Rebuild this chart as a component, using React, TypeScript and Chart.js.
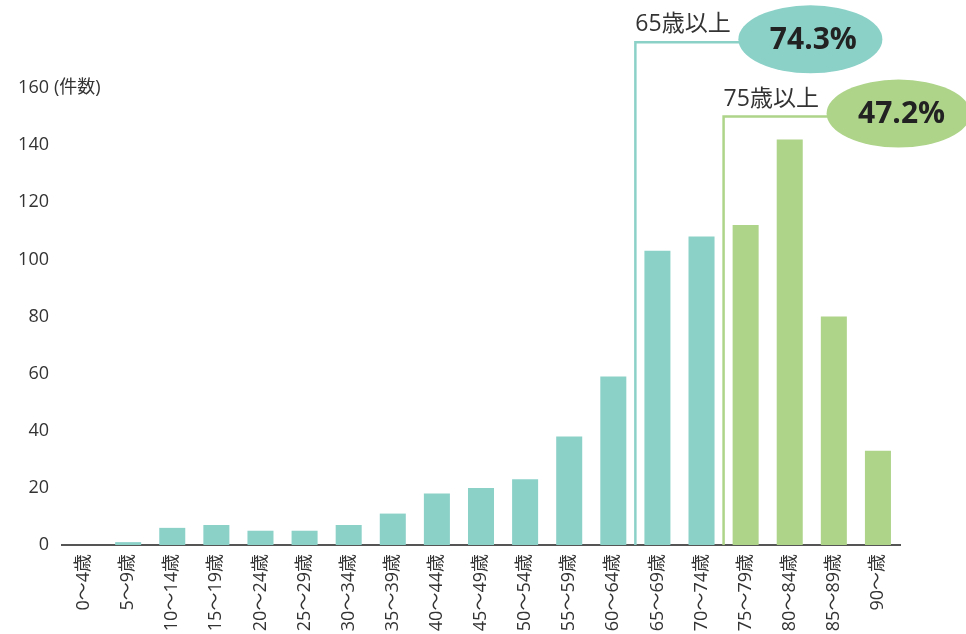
import React, { useEffect, useRef } from 'react';
import { Chart, registerables } from 'chart.js';

Chart.register(...registerables);

const categories: string[] = [
  '0～4歳', '5～9歳', '10～14歳', '15～19歳', '20～24歳', '25～29歳', '30～34歳',
  '35～39歳', '40～44歳', '45～49歳', '50～54歳', '55～59歳', '60～64歳', '65～69歳',
  '70～74歳', '75～79歳', '80～84歳', '85～89歳', '90～歳',
];
const counts: number[] = [0, 1, 6, 7, 5, 5, 7, 11, 18, 20, 23, 38, 59, 103, 108, 112, 142, 80, 33];
const yTicks: number[] = [0, 20, 40, 60, 80, 100, 120, 140, 160];
const yUnit = '(件数)';

const groupLabels: string[] = ['65歳以上', '75歳以上'];
const groupStartIndex: number[] = [13, 15];
const groupLineTop: number[] = [176, 150];

const TEAL = '#8BD1C8';
const GREEN = '#AED48A';
const FONT = "'Open Sans', 'Noto Sans CJK JP', sans-serif";

const total = counts.reduce((a, b) => a + b, 0);
const groupPct = groupStartIndex.map(
  (s) => ((counts.slice(s).reduce((a, b) => a + b, 0) / total) * 100).toFixed(1) + '%'
);
const groupColors = [TEAL, GREEN];
const barColors = counts.map((_, i) => (i >= groupStartIndex[1] ? GREEN : TEAL));

const annotationPlugin = {
  id: 'ageAnnotations',
  afterDraw(chart: any) {
    const { ctx } = chart;
    const x = chart.scales.x;
    const y = chart.scales.y;
    const base = y.getPixelForValue(0);
    ctx.save();
    // unit next to top tick
    ctx.font = `18px ${FONT}`;
    ctx.fillStyle = '#333';
    ctx.textAlign = 'left';
    ctx.textBaseline = 'middle';
    ctx.fillText(yUnit, y.right - 13 + 5, y.getPixelForValue(yTicks[yTicks.length - 1]));

    groupStartIndex.forEach((s, gi) => {
      const lx = (x.getPixelForValue(s - 1) + x.getPixelForValue(s)) / 2;
      const ty = y.getPixelForValue(groupLineTop[gi]);
      const color = groupColors[gi];
      ctx.strokeStyle = color;
      ctx.lineWidth = 2.5;
      ctx.beginPath();
      ctx.moveTo(lx, base);
      ctx.lineTo(lx, ty);
      ctx.lineTo(lx + 110, ty);
      ctx.stroke();

      const cx = lx + 175;
      const cy = ty - 3;
      ctx.fillStyle = color;
      ctx.beginPath();
      ctx.ellipse(cx, cy, 72, 34, 0, 0, Math.PI * 2);
      ctx.fill();

      ctx.fillStyle = '#222';
      ctx.font = `bold 30px ${FONT}`;
      ctx.textAlign = 'center';
      ctx.textBaseline = 'middle';
      ctx.fillText(groupPct[gi], cx + 3, cy + 1);

      ctx.fillStyle = '#333';
      ctx.font = `23px ${FONT}`;
      ctx.textAlign = 'left';
      ctx.textBaseline = 'alphabetic';
      ctx.fillText(groupLabels[gi], lx, ty - 11);
    });
    ctx.restore();
  },
};

export default function App() {
  const canvasRef = useRef<HTMLCanvasElement | null>(null);

  useEffect(() => {
    if (!canvasRef.current) return;
    Chart.defaults.font.family = FONT;
    const chart = new Chart(canvasRef.current, {
      type: 'bar',
      data: {
        labels: categories,
        datasets: [
          {
            data: counts,
            backgroundColor: barColors,
            borderWidth: 0,
            categoryPercentage: 1,
            barPercentage: 0.59,
          },
        ],
      },
      options: {
        animation: false,
        responsive: true,
        maintainAspectRatio: false,
        layout: { padding: { top: 88, left: 0, right: 66, bottom: 0 } },
        plugins: {
          legend: { display: false },
          tooltip: { enabled: false },
        },
        scales: {
          x: {
            z: 1,
            grid: { display: false, drawTicks: false },
            border: { display: true, color: '#555', width: 2 },
            ticks: {
              autoSkip: false,
              maxRotation: 90,
              minRotation: 90,
              padding: 9,
              color: '#333',
              font: { size: 18, family: FONT },
            },
            afterFit: (scale: any) => {
              scale.height = 89;
            },
          },
          y: {
            min: 0,
            max: 160,
            grid: { display: false, drawTicks: false },
            border: { display: false },
            afterBuildTicks: (scale: any) => {
              scale.ticks = yTicks.map((v) => ({ value: v }));
            },
            ticks: {
              padding: 13,
              color: '#333',
              font: { size: 18, family: FONT },
            },
            afterFit: (scale: any) => {
              scale.width = 62;
            },
          },
        },
      },
      plugins: [annotationPlugin],
    });
    return () => chart.destroy();
  }, []);

  return (
    <div style={{ position: 'absolute', left: 0, top: 0, width: 966, height: 634, background: '#fff' }}>
      <canvas ref={canvasRef} />
    </div>
  );
}
